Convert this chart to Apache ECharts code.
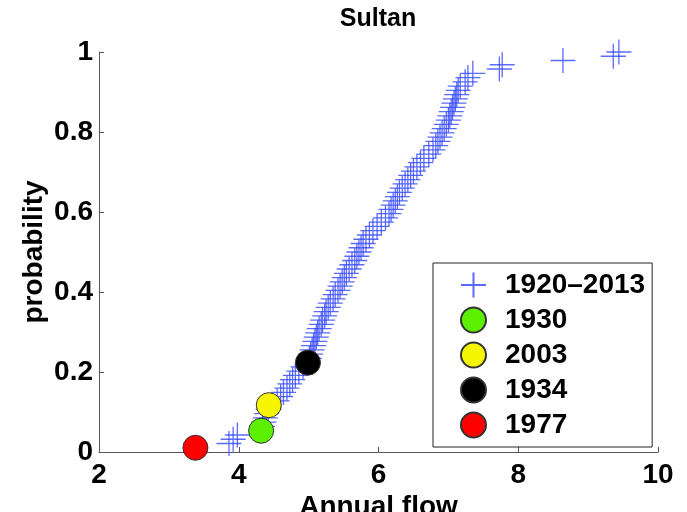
<!DOCTYPE html>
<html>
<head>
<meta charset="utf-8">
<script src="https://cdn.jsdelivr.net/npm/echarts@6/dist/echarts.min.js"></script>
<style>
  html, body { margin: 0; padding: 0; background: #fff; }
  #chart { width: 687px; height: 512px; }
</style>
</head>
<body>
<div id="chart"></div>
<script>
// Annual flow at Sultan, 1920–2013, one value per year, sorted ascending
const annualFlow = [
  3.38, 3.86, 3.92, 3.98, 4.32, 4.34, 4.36, 4.38, 4.40, 4.42,
  4.43, 4.55, 4.60, 4.64, 4.69, 4.73, 4.77, 4.81, 4.86, 4.92,
  4.99, 5.01, 5.03, 5.05, 5.07, 5.09, 5.11, 5.13, 5.15, 5.18,
  5.20, 5.23, 5.25, 5.28, 5.31, 5.35, 5.38, 5.42, 5.45, 5.48,
  5.51, 5.54, 5.58, 5.62, 5.66, 5.69, 5.72, 5.75, 5.78, 5.82,
  5.87, 5.92, 5.98, 6.04, 6.10, 6.15, 6.18, 6.21, 6.24, 6.27,
  6.30, 6.34, 6.38, 6.42, 6.46, 6.50, 6.55, 6.60, 6.65, 6.72,
  6.78, 6.82, 6.85, 6.88, 6.91, 6.94, 6.97, 7.00, 7.02, 7.04,
  7.06, 7.08, 7.10, 7.12, 7.14, 7.17, 7.24, 7.28, 7.35, 7.73,
  7.77, 8.64, 9.36, 9.44
];
const periodLabel = '1920–2013';

// Individual years picked out on the curve
const markedYears = ['1930', '2003', '1934', '1977'];
const markedFlows = [4.32, 4.43, 4.99, 3.38];

// Axis ticks
const xTicks = [2, 4, 6, 8, 10];
const yTicks = [0, 0.2, 0.4, 0.6, 0.8, 1];

// Marker fill per highlighted year
const markedFill = { '1930': '#5cf000', '2003': '#f6f600', '1934': '#000000', '1977': '#ff0000' };

const FONT = '"Liberation Sans", Arial, Helvetica, sans-serif';
const n = annualFlow.length;
// Empirical non-exceedance probability: rank / n
const probOf = v => (annualFlow.indexOf(v) + 1) / n;
const cdfPoints = annualFlow.map((v, i) => [v, (i + 1) / n]);

const plusPath = 'path://M0,10L20,10M10,0L10,20';
const plusBlue = 'rgba(45,65,255,0.78)';

const series = [{
  name: periodLabel,
  type: 'scatter',
  data: cdfPoints,
  symbol: plusPath,
  symbolSize: 25,
  itemStyle: { color: plusBlue, borderColor: plusBlue, borderWidth: 1.3, opacity: 1 },
  z: 2
}];
markedYears.forEach((yr, k) => {
  series.push({
    name: yr,
    type: 'scatter',
    data: [[markedFlows[k], probOf(markedFlows[k])]],
    symbol: 'circle',
    symbolSize: 25,
    itemStyle: { color: markedFill[yr], borderColor: '#333', borderWidth: 1, opacity: 1 },
    z: 3
  });
});

const labelFont = { fontFamily: FONT, fontSize: 28, fontWeight: 'bold', color: '#000' };

const chart = echarts.init(document.getElementById('chart'), null, { renderer: 'canvas' });
chart.setOption({
  animation: false,
  backgroundColor: '#fff',
  textStyle: { fontFamily: FONT },
  title: {
    text: 'Sultan',
    left: 373,
    textAlign: 'center',
    top: 2,
    textStyle: { fontFamily: FONT, fontSize: 25, fontWeight: 'bold', color: '#000' }
  },
  grid: { left: 99, right: 29, top: 52, bottom: 60, containLabel: false, outerBoundsMode: 'none' },
  xAxis: {
    type: 'value',
    min: xTicks[0], max: xTicks[xTicks.length - 1], interval: xTicks[1] - xTicks[0],
    name: 'Annual flow',
    nameLocation: 'middle',
    nameGap: 41,
    nameMoveOverlap: false,
    nameTextStyle: labelFont,
    axisLine: { lineStyle: { color: '#555', width: 1 } },
    axisTick: { inside: true, length: 5, lineStyle: { color: '#555' } },
    axisLabel: Object.assign({ margin: 9 }, labelFont),
    splitLine: { show: false }
  },
  yAxis: {
    type: 'value',
    min: yTicks[0], max: yTicks[yTicks.length - 1], interval: yTicks[1] - yTicks[0],
    name: 'probability',
    nameLocation: 'middle',
    nameRotate: 90,
    nameGap: 51,
    nameMoveOverlap: false,
    nameTextStyle: labelFont,
    axisLine: { show: true, lineStyle: { color: '#555', width: 1 } },
    axisTick: { show: true, inside: true, length: 5, lineStyle: { color: '#555' } },
    axisLabel: Object.assign({ margin: 6 }, labelFont),
    splitLine: { show: false }
  },
  legend: {
    orient: 'vertical',
    left: 433,
    top: 263,
    padding: [8, 7, 8, 27],
    itemWidth: 25,
    itemHeight: 26,
    itemGap: 7,
    backgroundColor: '#fff',
    borderColor: '#222',
    borderWidth: 1,
    data: [periodLabel].concat(markedYears),
    textStyle: Object.assign({ padding: [0, 0, 0, 14] }, labelFont)
  },
  series: series
});
</script>
</body>
</html>
